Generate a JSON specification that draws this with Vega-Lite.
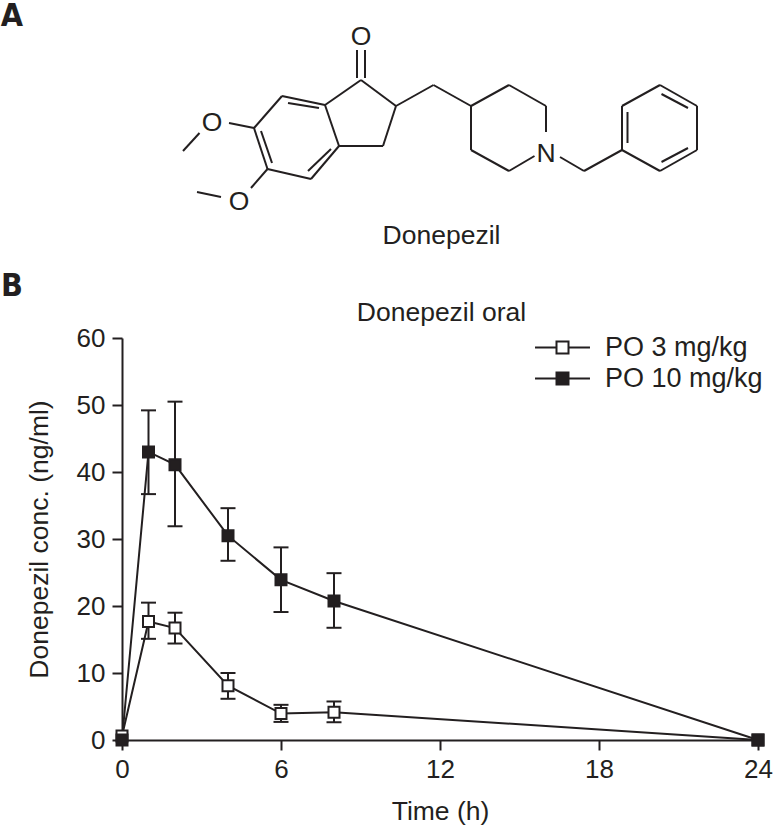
{
"$schema":"https://vega.github.io/schema/vega-lite/v6.json",
"autosize":"none",
"background":"white",
"padding":{"left":122,"top":338,"right":15,"bottom":88},
"width":636,"height":402,
"datasets":{
"pk":[
{"t":0,"c":0.6,"lo":0.6,"hi":0.6,"dose":"PO 3 mg/kg"},
{"t":1,"c":17.7,"lo":15.1,"hi":20.5,"dose":"PO 3 mg/kg"},
{"t":2,"c":16.7,"lo":14.4,"hi":19,"dose":"PO 3 mg/kg"},
{"t":4,"c":8.1,"lo":6.15,"hi":10,"dose":"PO 3 mg/kg"},
{"t":6,"c":3.95,"lo":2.7,"hi":5.25,"dose":"PO 3 mg/kg"},
{"t":8,"c":4.15,"lo":2.65,"hi":5.75,"dose":"PO 3 mg/kg"},
{"t":24,"c":0,"lo":0,"hi":0,"dose":"PO 3 mg/kg"},
{"t":0,"c":0,"lo":0,"hi":0,"dose":"PO 10 mg/kg"},
{"t":1,"c":43,"lo":36.7,"hi":49.2,"dose":"PO 10 mg/kg"},
{"t":2,"c":41.1,"lo":31.9,"hi":50.5,"dose":"PO 10 mg/kg"},
{"t":4,"c":30.5,"lo":26.75,"hi":34.6,"dose":"PO 10 mg/kg"},
{"t":6,"c":23.9,"lo":19.1,"hi":28.75,"dose":"PO 10 mg/kg"},
{"t":8,"c":20.75,"lo":16.75,"hi":24.9,"dose":"PO 10 mg/kg"},
{"t":24,"c":0,"lo":0,"hi":0,"dose":"PO 10 mg/kg"}
],
"bonds":[
{"a":357,"b":50,"a2":357,"b2":78},{"a":365,"b":50,"a2":365,"b2":78},
{"a":361,"b":80,"a2":396,"b2":106},{"a":396,"b":106,"a2":383,"b2":146},{"a":383,"b":146,"a2":339,"b2":146},
{"a":339,"b":146,"a2":325,"b2":105},{"a":325,"b":105,"a2":361,"b2":80},
{"a":325,"b":105,"a2":282,"b2":96},{"a":282,"b":96,"a2":254,"b2":128},{"a":254,"b":128,"a2":267.5,"b2":169},
{"a":267.5,"b":169,"a2":311,"b2":179},{"a":311,"b":179,"a2":339,"b2":146},
{"a":288,"b":103,"a2":319,"b2":108},{"a":261,"b":131,"a2":272,"b2":163},{"a":308,"b":171,"a2":331,"b2":149},
{"a":229,"b":123,"a2":254,"b2":128},{"a":199.5,"b":133,"a2":183,"b2":151},
{"a":267.5,"b":169,"a2":251,"b2":188},{"a":197,"b":192,"a2":221,"b2":197},
{"a":396,"b":106,"a2":433.5,"b2":85},{"a":433.5,"b":85,"a2":471,"b2":106},
{"a":471,"b":106,"a2":509,"b2":85},{"a":509,"b":85,"a2":546,"b2":106},{"a":546,"b":106,"a2":546,"b2":132},
{"a":534.5,"b":156,"a2":509,"b2":171},{"a":509,"b":171,"a2":471,"b2":150},{"a":471,"b":150,"a2":471,"b2":106},
{"a":560,"b":157,"a2":584,"b2":171},{"a":584,"b":171,"a2":622,"b2":150},
{"a":622,"b":150,"a2":622,"b2":106},{"a":622,"b":106,"a2":660,"b2":85},{"a":660,"b":85,"a2":697,"b2":106},
{"a":697,"b":106,"a2":697,"b2":150},{"a":697,"b":150,"a2":660,"b2":171},{"a":660,"b":171,"a2":622,"b2":150},
{"a":627.5,"b":112,"a2":627.5,"b2":143},{"a":661.5,"b":94,"a2":688,"b2":108},{"a":661.5,"b":162,"a2":688,"b2":148}
],
"atoms":[
{"a":361,"b":37,"s":"O"},{"a":212,"b":123,"s":"O"},{"a":239,"b":202,"s":"O"},{"a":546,"b":154,"s":"N"},
{"a":441.5,"b":236,"s":"Donepezil"},{"a":441.5,"b":313,"s":"Donepezil oral"}
],
"panels":[{"a":12,"b":16,"s":"A"},{"a":12,"b":286,"s":"B"}]
},
"layer":[
{
"layer":[
{"data":{"name":"bonds"},"mark":{"type":"rule","stroke":"#231f20","strokeWidth":2},
 "encoding":{"x":{"field":"a","type":"quantitative","scale":{"domain":[122,758],"nice":false},"axis":null},"x2":{"field":"a2"},
 "y":{"field":"b","type":"quantitative","scale":{"domain":[740,338],"nice":false},"axis":null},"y2":{"field":"b2"}}},
{"data":{"name":"atoms"},"mark":{"type":"text","font":"Liberation Sans","fontSize":26.5,"color":"#231f20","align":"center","baseline":"middle"},
 "encoding":{"x":{"field":"a","type":"quantitative"},"y":{"field":"b","type":"quantitative"},"text":{"field":"s"}}},
{"data":{"name":"panels"},"mark":{"type":"text","font":"DejaVu Sans Condensed, Liberation Sans","fontSize":32,"fontWeight":"bold","color":"#231f20","align":"center","baseline":"middle"},
 "encoding":{"x":{"field":"a","type":"quantitative"},"y":{"field":"b","type":"quantitative"},"text":{"field":"s"}}}
]
},
{
"data":{"name":"pk"},
"encoding":{
 "x":{"field":"t","type":"quantitative","scale":{"domain":[0,24],"nice":false},
  "axis":{"orient":"bottom","title":"Time (h)","values":[0,6,12,18,24],"grid":false,"domainColor":"#231f20","domainWidth":2,"tickColor":"#231f20","tickWidth":2,"tickSize":10,"labelFont":"Liberation Sans","labelFontSize":26,"labelColor":"#231f20","labelPadding":6,"labelFlush":false,"titleFont":"Liberation Sans","titleFontSize":26.5,"titleFontWeight":"normal","titleColor":"#231f20","titlePadding":16}}
},
"layer":[
{"transform":[{"filter":"datum.hi>datum.lo"}],"mark":{"type":"rule","stroke":"#231f20","strokeWidth":2},
 "encoding":{"y":{"field":"lo","type":"quantitative","scale":{"domain":[0,60],"nice":false},
  "axis":{"orient":"left","title":"Donepezil conc. (ng/ml)","values":[0,10,20,30,40,50,60],"grid":false,"domainColor":"#231f20","domainWidth":2,"tickColor":"#231f20","tickWidth":2,"tickSize":10,"labelFont":"Liberation Sans","labelFontSize":26,"labelColor":"#231f20","labelPadding":7,"titleFont":"Liberation Sans","titleFontSize":26.5,"titleFontWeight":"normal","titleColor":"#231f20","titlePadding":23}},
  "y2":{"field":"hi"}}},
{"transform":[{"filter":"datum.hi>datum.lo"}],"mark":{"type":"tick","orient":"horizontal","size":15,"thickness":2,"color":"#231f20","opacity":1},
 "encoding":{"y":{"field":"lo","type":"quantitative"}}},
{"transform":[{"filter":"datum.hi>datum.lo"}],"mark":{"type":"tick","orient":"horizontal","size":15,"thickness":2,"color":"#231f20","opacity":1},
 "encoding":{"y":{"field":"hi","type":"quantitative"}}},
{"mark":{"type":"line","stroke":"#231f20","strokeWidth":2},
 "encoding":{"y":{"field":"c","type":"quantitative"},"detail":{"field":"dose"}}},
{"mark":{"type":"point","shape":"square","filled":true,"size":121,"stroke":"#231f20","strokeWidth":2,"opacity":1},
 "encoding":{"y":{"field":"c","type":"quantitative"},
  "fill":{"field":"dose","type":"nominal","sort":["PO 3 mg/kg","PO 10 mg/kg"],"scale":{"domain":["PO 3 mg/kg","PO 10 mg/kg"],"range":["#ffffff","#231f20"]},
   "legend":{"title":null,"orient":"none","legendX":427,"legendY":-4,"symbolType":"M-4.58,0H-1M1,0H4.58M-1,-1H1V1H-1Z","symbolSize":144,"symbolStrokeColor":"#231f20","symbolStrokeWidth":2,"labelFont":"Liberation Sans","labelFontSize":27,"labelColor":"#231f20","labelOffset":29,"rowPadding":3,"symbolOpacity":1}}}}
]
}
],
"resolve":{"scale":{"x":"independent","y":"independent"}},
"config":{"view":{"stroke":null}}
}
